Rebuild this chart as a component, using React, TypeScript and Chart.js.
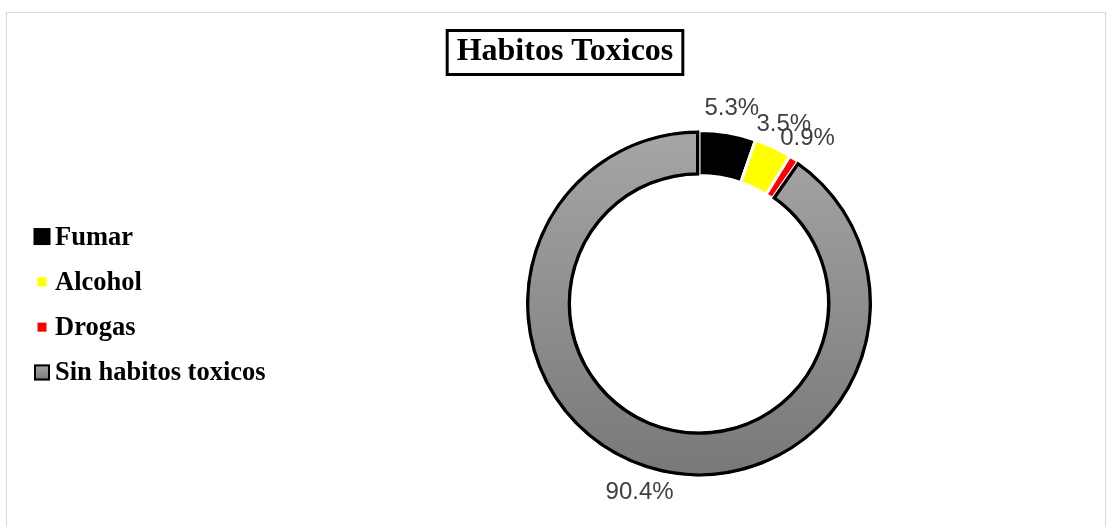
import React, { useEffect, useRef } from 'react';
import { Chart, registerables } from 'chart.js';

Chart.register(...registerables);

// ---- data ----
const chartTitle = 'Habitos Toxicos';
const categories = ['Fumar', 'Alcohol', 'Drogas', 'Sin habitos toxicos'];
const percentages = [5.3, 3.5, 0.9, 90.4];
const percentLabels = ['5.3%', '3.5%', '0.9%', '90.4%'];

// ---- styles ----
const solidColors = ['#000000', '#ffff00', '#ff0000', '#969696'];
const borderColors = ['#ffffff', '#ffffff', '#ffffff', '#000000'];
const borderWidths = [3, 3, 3, 3];
const markerSizes = [17, 9, 9, 16];
const LABEL_FONT = '24px "Liberation Sans", Arial, sans-serif';
const LEGEND_FONT = 'bold 26.5px "Liberation Serif", "Times New Roman", serif';
const TITLE_FONT = 'bold 32px "Liberation Serif", "Times New Roman", serif';

function grayGradient(ctx: CanvasRenderingContext2D, top: number, bottom: number) {
  const g = ctx.createLinearGradient(0, top, 0, bottom);
  g.addColorStop(0, '#a6a6a6');
  g.addColorStop(1, '#787878');
  return g;
}

const titlePlugin = {
  id: 'boxedTitle',
  afterDraw(chart: any) {
    const ctx = chart.ctx as CanvasRenderingContext2D;
    ctx.save();
    ctx.font = TITLE_FONT;
    ctx.fillStyle = '#000';
    ctx.textAlign = 'center';
    ctx.textBaseline = 'alphabetic';
    const cx = 558;
    const baseline = 47;
    ctx.fillText(chartTitle, cx, baseline);
    const w = ctx.measureText(chartTitle).width;
    ctx.lineWidth = 3;
    ctx.strokeStyle = '#000';
    ctx.strokeRect(cx - w / 2 - 9.5, 17.5, w + 19, 44);
    ctx.restore();
  },
};

const legendPlugin = {
  id: 'sideLegend',
  afterDraw(chart: any) {
    const ctx = chart.ctx as CanvasRenderingContext2D;
    const ca = chart.chartArea;
    const midY = (ca.top + ca.bottom) / 2;
    const step = 45.3;
    const labels: string[] = chart.data.labels;
    ctx.save();
    ctx.font = LEGEND_FONT;
    ctx.textAlign = 'left';
    ctx.textBaseline = 'alphabetic';
    labels.forEach((lab, i) => {
      const cy = midY + (i - (labels.length - 1) / 2) * step;
      const s = markerSizes[i];
      const mx = 35;
      const my = cy + 1;
      if (i === labels.length - 1) {
        ctx.fillStyle = grayGradient(ctx, my - s / 2, my + s / 2);
        ctx.fillRect(mx - s / 2, my - s / 2, s, s);
        ctx.lineWidth = 2;
        ctx.strokeStyle = '#000';
        ctx.strokeRect(mx - s / 2 + 1, my - s / 2 + 1, s - 2, s - 2);
      } else {
        ctx.fillStyle = solidColors[i];
        ctx.fillRect(mx - s / 2, my - s / 2, s, s);
      }
      ctx.fillStyle = '#000';
      ctx.fillText(lab, 48, cy + 9);
    });
    ctx.restore();
  },
};

const valueLabelPlugin = {
  id: 'outsideLabels',
  afterDatasetsDraw(chart: any) {
    const ctx = chart.ctx as CanvasRenderingContext2D;
    const meta = chart.getDatasetMeta(0);
    ctx.save();
    ctx.font = LABEL_FONT;
    ctx.fillStyle = '#404040';
    ctx.textAlign = 'center';
    ctx.textBaseline = 'middle';
    meta.data.forEach((arc: any, i: number) => {
      const p = arc.getProps(['x', 'y', 'startAngle', 'endAngle', 'outerRadius'], true);
      const mid = (p.startAngle + p.endAngle) / 2;
      const r = p.outerRadius + 25;
      ctx.fillText(percentLabels[i], p.x + Math.cos(mid) * r, p.y + Math.sin(mid) * r);
    });
    ctx.restore();
  },
};

export default function App() {
  const canvasRef = useRef<HTMLCanvasElement | null>(null);

  useEffect(() => {
    if (!canvasRef.current) return;
    const chart = new Chart(canvasRef.current, {
      type: 'doughnut',
      data: {
        labels: categories,
        datasets: [
          {
            data: percentages,
            backgroundColor: (c: any) => {
              const i = c.dataIndex;
              if (i === 3) {
                const ca = c.chart.chartArea;
                if (!ca) return solidColors[3];
                return grayGradient(c.chart.ctx, ca.top, ca.bottom);
              }
              return solidColors[i];
            },
            borderColor: borderColors,
            borderWidth: borderWidths,
            borderAlign: (c: any) => (c.dataIndex === 3 ? 'inner' : 'center'),
            hoverOffset: 0,
          } as any,
        ],
      },
      options: {
        animation: false,
        responsive: false,
        maintainAspectRatio: false,
        cutout: '74%',
        layout: { padding: { top: 116, bottom: 49, left: 400, right: 114 } },
        plugins: {
          legend: { display: false },
          title: { display: false },
          tooltip: { enabled: false },
        },
        events: [],
      } as any,
      plugins: [valueLabelPlugin, legendPlugin, titlePlugin],
    });
    return () => chart.destroy();
  }, []);

  return (
    <div
      style={{
        position: 'absolute',
        left: 6,
        top: 12,
        width: 1098,
        height: 514,
        borderTop: '1px solid #d9d9d9',
        borderLeft: '1px solid #d9d9d9',
        borderRight: '1px solid #d9d9d9',
        background: '#fff',
      }}
    >
      <canvas ref={canvasRef} width={1098} height={514} style={{ display: 'block' }} />
    </div>
  );
}
